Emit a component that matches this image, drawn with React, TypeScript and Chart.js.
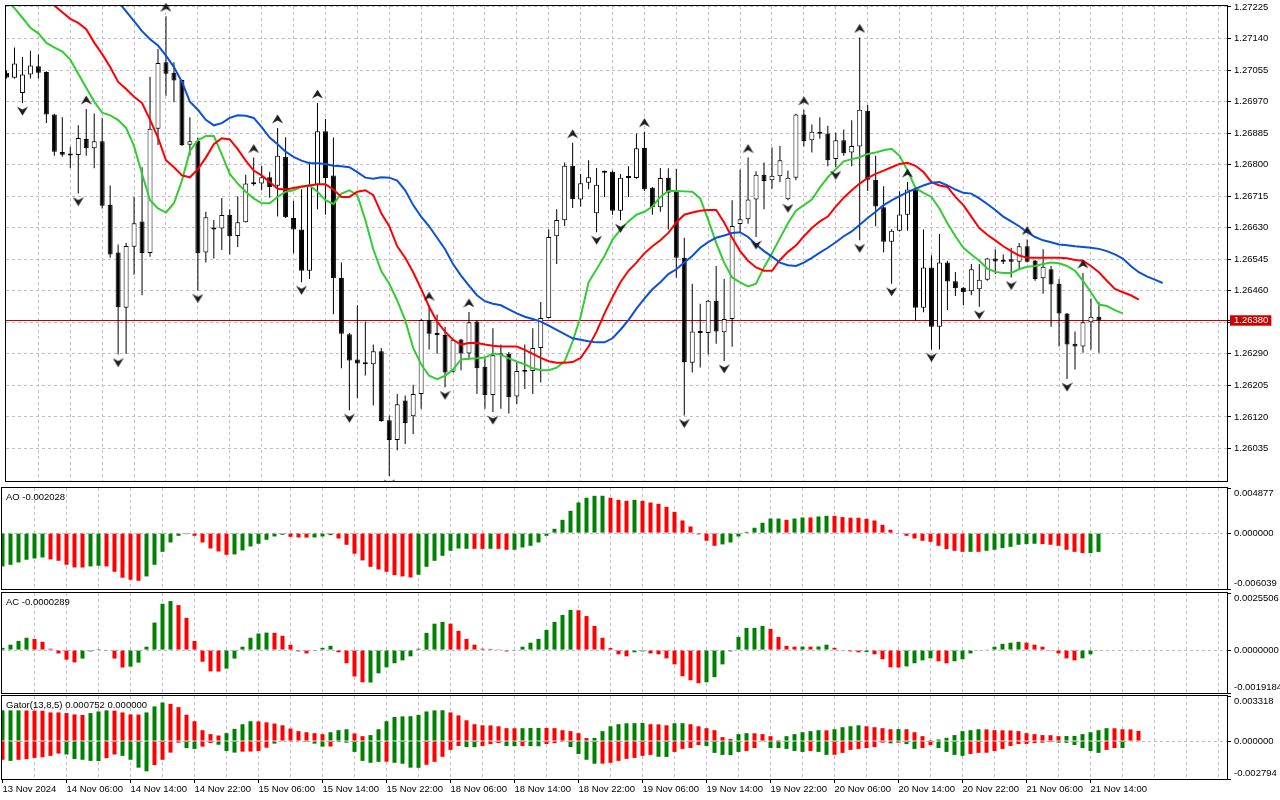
import React, { useEffect, useRef } from 'react';
import { Chart, registerables } from 'chart.js';

Chart.register(...registerables);

// ---------- data (H1 bars, 13 Nov 22:00 .. 21 Nov 15:00) ----------
const xTickLabels = ['13 Nov 2024', '14 Nov 06:00', '14 Nov 14:00', '14 Nov 22:00', '15 Nov 06:00', '15 Nov 14:00',
  '15 Nov 22:00', '18 Nov 06:00', '18 Nov 14:00', '18 Nov 22:00', '19 Nov 06:00', '19 Nov 14:00', '19 Nov 22:00',
  '20 Nov 06:00', '20 Nov 14:00', '20 Nov 22:00', '21 Nov 06:00', '21 Nov 14:00'];

const opens = [
  1.27048, 1.27034, 1.26993, 1.27043, 1.27065, 1.27050, 1.26935, 1.26834, 1.26828, 1.26826,
  1.26869, 1.26844, 1.26863, 1.26691, 1.26563, 1.26414, 1.26579, 1.26647, 1.26562, 1.26897,
  1.27076, 1.27048, 1.27028, 1.26854, 1.26864, 1.26563, 1.26625, 1.26628, 1.26665, 1.26608,
  1.26645, 1.26747, 1.26749, 1.26766, 1.26743, 1.26821, 1.26656, 1.26625, 1.26514, 1.26746,
  1.26890, 1.26771, 1.26495, 1.26343, 1.26275, 1.26266, 1.26262, 1.26297, 1.26111, 1.26058,
  1.26164, 1.26122, 1.26182, 1.26381, 1.26346, 1.26341, 1.26242, 1.26329, 1.26291, 1.26377,
  1.26255, 1.26179, 1.26286, 1.26290, 1.26175, 1.26242, 1.26244, 1.26306, 1.26387, 1.26607,
  1.26650, 1.26797, 1.26706, 1.26751, 1.26669, 1.26781, 1.26781, 1.26676, 1.26764, 1.26764,
  1.26845, 1.26738, 1.26685, 1.26765, 1.26727, 1.26549, 1.26266, 1.26350, 1.26346, 1.26433,
  1.26348, 1.26384, 1.26640, 1.26653, 1.26706, 1.26773, 1.26758, 1.26769, 1.26707, 1.26765,
  1.26935, 1.26866, 1.26889, 1.26884, 1.26815, 1.26866, 1.26833, 1.26849, 1.26945, 1.26759,
  1.26685, 1.26592, 1.26622, 1.26665, 1.26733, 1.26414, 1.26523, 1.26363, 1.26536, 1.26486,
  1.26468, 1.26459, 1.26464, 1.26490, 1.26547, 1.26542, 1.26545, 1.26538, 1.26580, 1.26542,
  1.26494, 1.26518, 1.26479, 1.26399, 1.26317, 1.26310, 1.26375, 1.26390];

const highs = [
  1.27054, 1.27116, 1.27090, 1.27107, 1.27097, 1.27052, 1.26937, 1.26928, 1.26848, 1.26906,
  1.26950, 1.26938, 1.26926, 1.26744, 1.26585, 1.26589, 1.26713, 1.26793, 1.27036, 1.27112,
  1.27200, 1.27076, 1.27029, 1.26928, 1.26873, 1.26673, 1.26651, 1.26710, 1.26680, 1.26715,
  1.26773, 1.26819, 1.26797, 1.26781, 1.26899, 1.26874, 1.26703, 1.26734, 1.26808, 1.26966,
  1.26923, 1.26873, 1.26536, 1.26346, 1.26421, 1.26377, 1.26315, 1.26306, 1.26124, 1.26182,
  1.26178, 1.26207, 1.26384, 1.26421, 1.26396, 1.26363, 1.26331, 1.26331, 1.26403, 1.26381,
  1.26278, 1.26359, 1.26315, 1.26295, 1.26271, 1.26315, 1.26359, 1.26430, 1.26625, 1.26680,
  1.26806, 1.26859, 1.26775, 1.26812, 1.26791, 1.26784, 1.26784, 1.26775, 1.26796, 1.26884,
  1.26889, 1.26740, 1.26791, 1.26790, 1.26788, 1.26603, 1.26479, 1.26425, 1.26436, 1.26527,
  1.26492, 1.26704, 1.26786, 1.26819, 1.26782, 1.26806, 1.26846, 1.26850, 1.26784, 1.26937,
  1.26948, 1.26908, 1.26928, 1.26905, 1.26886, 1.26895, 1.26920, 1.27143, 1.26961, 1.26824,
  1.26742, 1.26626, 1.26728, 1.26753, 1.26738, 1.26625, 1.26556, 1.26613, 1.26541, 1.26511,
  1.26470, 1.26532, 1.26532, 1.26549, 1.26572, 1.26558, 1.26576, 1.26589, 1.26598, 1.26543,
  1.26572, 1.26527, 1.26492, 1.26400, 1.26350, 1.26508, 1.26439, 1.26430];

const lows = [
  1.27032, 1.27032, 1.26966, 1.27032, 1.27032, 1.26912, 1.26824, 1.26821, 1.26791, 1.26722,
  1.26824, 1.26790, 1.26682, 1.26549, 1.26288, 1.26290, 1.26503, 1.26448, 1.26552, 1.26853,
  1.26986, 1.26968, 1.26850, 1.26824, 1.26461, 1.26536, 1.26547, 1.26570, 1.26558, 1.26578,
  1.26644, 1.26743, 1.26731, 1.26711, 1.26660, 1.26656, 1.26561, 1.26483, 1.26492, 1.26680,
  1.26665, 1.26397, 1.26251, 1.26138, 1.26171, 1.26232, 1.26151, 1.26107, 1.25961, 1.26030,
  1.26047, 1.26074, 1.26142, 1.26302, 1.26290, 1.26200, 1.26240, 1.26246, 1.26275, 1.26182,
  1.26142, 1.26133, 1.26142, 1.26129, 1.26155, 1.26195, 1.26182, 1.26213, 1.26386, 1.26532,
  1.26635, 1.26683, 1.26687, 1.26734, 1.26618, 1.26713, 1.26665, 1.26650, 1.26713, 1.26762,
  1.26729, 1.26665, 1.26673, 1.26625, 1.26496, 1.26124, 1.26240, 1.26253, 1.26288, 1.26317,
  1.26271, 1.26309, 1.26616, 1.26641, 1.26605, 1.26680, 1.26735, 1.26753, 1.26704, 1.26758,
  1.26849, 1.26833, 1.26870, 1.26796, 1.26793, 1.26824, 1.26796, 1.26596, 1.26729, 1.26634,
  1.26563, 1.26479, 1.26620, 1.26622, 1.26379, 1.26402, 1.26302, 1.26302, 1.26408, 1.26446,
  1.26421, 1.26448, 1.26417, 1.26487, 1.26505, 1.26532, 1.26496, 1.26518, 1.26536, 1.26487,
  1.26452, 1.26363, 1.26310, 1.26222, 1.26248, 1.26293, 1.26302, 1.26293];

const closes = [
  1.27035, 1.27073, 1.27043, 1.27067, 1.27048, 1.26935, 1.26835, 1.26827, 1.26825, 1.26872,
  1.26844, 1.26863, 1.26689, 1.26558, 1.26416, 1.26581, 1.26642, 1.26562, 1.26897, 1.27074,
  1.27045, 1.27027, 1.26853, 1.26863, 1.26561, 1.26658, 1.26629, 1.26664, 1.26607, 1.26645,
  1.26749, 1.26750, 1.26766, 1.26740, 1.26824, 1.26658, 1.26625, 1.26514, 1.26746, 1.26890,
  1.26764, 1.26494, 1.26344, 1.26272, 1.26264, 1.26262, 1.26297, 1.26109, 1.26058, 1.26154,
  1.26104, 1.26182, 1.26381, 1.26344, 1.26340, 1.26240, 1.26328, 1.26291, 1.26375, 1.26251,
  1.26179, 1.26286, 1.26290, 1.26173, 1.26244, 1.26246, 1.26306, 1.26387, 1.26605, 1.26651,
  1.26797, 1.26707, 1.26750, 1.26766, 1.26746, 1.26778, 1.26676, 1.26765, 1.26765, 1.26844,
  1.26734, 1.26685, 1.26764, 1.26724, 1.26549, 1.26268, 1.26350, 1.26346, 1.26433, 1.26350,
  1.26384, 1.26635, 1.26653, 1.26706, 1.26773, 1.26756, 1.26770, 1.26812, 1.26765, 1.26935,
  1.26864, 1.26889, 1.26883, 1.26812, 1.26866, 1.26831, 1.26850, 1.26948, 1.26759, 1.26687,
  1.26592, 1.26622, 1.26666, 1.26733, 1.26414, 1.26523, 1.26363, 1.26536, 1.26485, 1.26467,
  1.26456, 1.26518, 1.26490, 1.26547, 1.26539, 1.26538, 1.26538, 1.26580, 1.26538, 1.26492,
  1.26525, 1.26477, 1.26399, 1.26315, 1.26310, 1.26375, 1.26390, 1.26380];

// Alligator lines as drawn (already shifted forward: jaw +8, teeth +5, lips +3 bars)
const jaw = [
  1.27590, 1.27568, 1.27545, 1.27523, 1.27501, 1.27479, 1.27453, 1.27426, 1.27399, 1.27373,
  1.27346, 1.27320, 1.27293, 1.27267, 1.27240, 1.27213, 1.27187, 1.27160, 1.27138, 1.27121,
  1.27094, 1.27063, 1.27023, 1.26970, 1.26948, 1.26921, 1.26906, 1.26912, 1.26926, 1.26933,
  1.26932, 1.26926, 1.26901, 1.26873, 1.26855, 1.26835, 1.26821, 1.26811, 1.26804, 1.26804,
  1.26802, 1.26797, 1.26796, 1.26793, 1.26780, 1.26765, 1.26762, 1.26766, 1.26765, 1.26757,
  1.26731, 1.26691, 1.26660, 1.26634, 1.26603, 1.26572, 1.26532, 1.26501, 1.26474, 1.26448,
  1.26432, 1.26425, 1.26421, 1.26410, 1.26399, 1.26390, 1.26384, 1.26377, 1.26366, 1.26355,
  1.26343, 1.26332, 1.26328, 1.26324, 1.26321, 1.26321, 1.26332, 1.26355, 1.26381, 1.26412,
  1.26439, 1.26464, 1.26483, 1.26505, 1.26518, 1.26536, 1.26554, 1.26576, 1.26591, 1.26603,
  1.26609, 1.26616, 1.26618, 1.26605, 1.26585, 1.26567, 1.26552, 1.26536, 1.26529, 1.26527,
  1.26536, 1.26549, 1.26563, 1.26576, 1.26591, 1.26607, 1.26620, 1.26638, 1.26656, 1.26673,
  1.26691, 1.26704, 1.26715, 1.26726, 1.26735, 1.26744, 1.26751, 1.26753, 1.26744, 1.26733,
  1.26724, 1.26722, 1.26709, 1.26694, 1.26678, 1.26660, 1.26647, 1.26634, 1.26618, 1.26605,
  1.26596, 1.26591, 1.26585, 1.26583, 1.26580, 1.26578, 1.26576, 1.26573, 1.26567, 1.26558,
  1.26547, 1.26527, 1.26510, 1.26499, 1.26490, 1.26481];

const teeth = [
  1.27342, 1.27324, 1.27306, 1.27289, 1.27269, 1.27249, 1.27229, 1.27211, 1.27193, 1.27182,
  1.27165, 1.27129, 1.27098, 1.27063, 1.27023, 1.27004, 1.26983, 1.26966, 1.26921, 1.26873,
  1.26812, 1.26793, 1.26771, 1.26766, 1.26788, 1.26819, 1.26855, 1.26871, 1.26868, 1.26842,
  1.26811, 1.26784, 1.26771, 1.26753, 1.26735, 1.26733, 1.26737, 1.26741, 1.26744, 1.26747,
  1.26747, 1.26733, 1.26713, 1.26713, 1.26727, 1.26731, 1.26718, 1.26669, 1.26634, 1.26580,
  1.26549, 1.26510, 1.26465, 1.26417, 1.26377, 1.26350, 1.26328, 1.26315, 1.26319, 1.26319,
  1.26315, 1.26312, 1.26310, 1.26310, 1.26310, 1.26301, 1.26290, 1.26279, 1.26270, 1.26266,
  1.26266, 1.26268, 1.26279, 1.26310, 1.26350, 1.26399, 1.26443, 1.26483, 1.26514, 1.26536,
  1.26561, 1.26580, 1.26596, 1.26616, 1.26644, 1.26665, 1.26671, 1.26676, 1.26678, 1.26678,
  1.26644, 1.26603, 1.26567, 1.26541, 1.26523, 1.26514, 1.26514, 1.26543, 1.26565, 1.26582,
  1.26607, 1.26629, 1.26647, 1.26660, 1.26687, 1.26711, 1.26731, 1.26749, 1.26764, 1.26775,
  1.26784, 1.26793, 1.26802, 1.26805, 1.26797, 1.26780, 1.26753, 1.26744, 1.26740, 1.26713,
  1.26691, 1.26660, 1.26629, 1.26611, 1.26596, 1.26580, 1.26567, 1.26555, 1.26549, 1.26549,
  1.26549, 1.26549, 1.26549, 1.26548, 1.26543, 1.26541, 1.26527, 1.26510, 1.26487, 1.26465,
  1.26456, 1.26448, 1.26436];

const lips = [
  1.27240, 1.27222, 1.27196, 1.27169, 1.27154, 1.27128, 1.27116, 1.27105, 1.27083, 1.27045,
  1.27007, 1.26970, 1.26940, 1.26933, 1.26920, 1.26899, 1.26850, 1.26775, 1.26704, 1.26682,
  1.26671, 1.26696, 1.26757, 1.26837, 1.26866, 1.26877, 1.26877, 1.26828, 1.26775, 1.26749,
  1.26727, 1.26709, 1.26696, 1.26696, 1.26713, 1.26727, 1.26731, 1.26740, 1.26744, 1.26727,
  1.26704, 1.26694, 1.26722, 1.26731, 1.26718, 1.26651, 1.26572, 1.26513, 1.26479, 1.26434,
  1.26381, 1.26306, 1.26262, 1.26231, 1.26222, 1.26231, 1.26248, 1.26275, 1.26277, 1.26278,
  1.26280, 1.26291, 1.26288, 1.26278, 1.26269, 1.26262, 1.26251, 1.26246, 1.26246, 1.26253,
  1.26270, 1.26324, 1.26390, 1.26483, 1.26518, 1.26554, 1.26598, 1.26625, 1.26647, 1.26665,
  1.26673, 1.26687, 1.26713, 1.26729, 1.26729, 1.26728, 1.26727, 1.26709, 1.26651, 1.26589,
  1.26536, 1.26496, 1.26483, 1.26472, 1.26479, 1.26523, 1.26561, 1.26602, 1.26642, 1.26676,
  1.26691, 1.26706, 1.26738, 1.26766, 1.26788, 1.26809, 1.26815, 1.26820, 1.26829, 1.26833,
  1.26839, 1.26843, 1.26824, 1.26784, 1.26737, 1.26724, 1.26713, 1.26682, 1.26642, 1.26607,
  1.26576, 1.26558, 1.26541, 1.26520, 1.26511, 1.26508, 1.26508, 1.26518, 1.26525, 1.26527,
  1.26532, 1.26536, 1.26534, 1.26527, 1.26514, 1.26487, 1.26456, 1.26423, 1.26419, 1.26408,
  1.26399];

const fractalUpBars = [10, 20, 31, 34, 39, 53, 58, 71, 80, 93, 100, 107, 113, 128, 135];
const fractalDownBars = [2, 9, 14, 24, 37, 43, 48, 55, 61, 74, 77, 85, 90, 94, 98, 104, 107, 111, 116, 122, 126, 133];

const currentPrice = 1.2638;
const priceTicks = [1.26035, 1.2612, 1.26205, 1.2629, 1.26375, 1.2646, 1.26545, 1.2663, 1.26715, 1.268,
  1.26885, 1.2697, 1.27055, 1.2714, 1.27225];

const aoValues = [
  -0.00360, -0.00342, -0.00317, -0.00288, -0.00274, -0.00263, -0.00284, -0.00299, -0.00342, -0.00371,
  -0.00372, -0.00360, -0.00353, -0.00360, -0.00418, -0.00482, -0.00504, -0.00515, -0.00468, -0.00342,
  -0.00202, -0.00101, -0.00029, -0.00011, -0.00029, -0.00101, -0.00166, -0.00198, -0.00234, -0.00230,
  -0.00187, -0.00144, -0.00115, -0.00072, -0.00036, -0.00018, -0.00040, -0.00047, -0.00048, -0.00047,
  -0.00036, -0.00022, -0.00058, -0.00126, -0.00223, -0.00295, -0.00364, -0.00392, -0.00418, -0.00454,
  -0.00468, -0.00479, -0.00450, -0.00364, -0.00299, -0.00245, -0.00191, -0.00166, -0.00169, -0.00170,
  -0.00171, -0.00169, -0.00170, -0.00180, -0.00180, -0.00155, -0.00137, -0.00101, -0.00029, 0.00047,
  0.00144, 0.00241, 0.00331, 0.00382, 0.00403, 0.00404, 0.00382, 0.00360, 0.00349, 0.00360,
  0.00349, 0.00331, 0.00317, 0.00284, 0.00230, 0.00137, 0.00072, -0.00014, -0.00083, -0.00137,
  -0.00122, -0.00101, -0.00036, 0.00014, 0.00058, 0.00112, 0.00158, 0.00158, 0.00144, 0.00158,
  0.00169, 0.00169, 0.00180, 0.00187, 0.00187, 0.00173, 0.00166, 0.00166, 0.00155, 0.00137,
  0.00090, 0.00036, -0.00004, -0.00029, -0.00058, -0.00083, -0.00094, -0.00137, -0.00173, -0.00191,
  -0.00202, -0.00202, -0.00202, -0.00191, -0.00180, -0.00162, -0.00148, -0.00126, -0.00119, -0.00115,
  -0.00119, -0.00126, -0.00137, -0.00180, -0.00202, -0.00216, -0.00216, -0.00203];
const aoRising = [
  1, 1, 1, 1, 1, 1, 0, 0, 0, 0, 0, 1, 1, 0, 0, 0, 0, 0, 1, 1,
  1, 1, 1, 1, 0, 0, 0, 0, 0, 1, 1, 1, 1, 1, 1, 1, 0, 0, 0, 1,
  1, 1, 0, 0, 0, 0, 0, 0, 0, 0, 0, 0, 1, 1, 1, 1, 1, 1, 1, 0,
  0, 1, 0, 0, 1, 1, 1, 1, 1, 1, 1, 1, 1, 1, 1, 1, 0, 0, 0, 1,
  0, 0, 0, 0, 0, 0, 0, 0, 0, 0, 1, 1, 1, 1, 1, 1, 1, 1, 0, 1,
  1, 0, 1, 1, 0, 0, 0, 0, 0, 0, 0, 0, 0, 0, 0, 0, 0, 0, 0, 0,
  0, 1, 0, 1, 1, 1, 1, 1, 1, 1, 0, 0, 0, 0, 0, 0, 1, 1];

const acValues = [
  0.00010, 0.00024, 0.00041, 0.00055, 0.00050, 0.00037, 0.00006, -0.00015, -0.00043, -0.00055,
  -0.00038, -0.00006, 0.00004, -0.00001, -0.00038, -0.00078, -0.00074, -0.00056, 0.00015, 0.00123,
  0.00207, 0.00219, 0.00201, 0.00144, 0.00041, -0.00052, -0.00095, -0.00096, -0.00083, -0.00038,
  0.00015, 0.00055, 0.00074, 0.00078, 0.00077, 0.00064, 0.00024, -0.00006, -0.00015, -0.00001,
  0.00010, 0.00019, -0.00010, -0.00059, -0.00118, -0.00144, -0.00145, -0.00104, -0.00077, -0.00059,
  -0.00046, -0.00028, 0.00006, 0.00077, 0.00118, 0.00126, 0.00118, 0.00086, 0.00050, 0.00024,
  0.00006, 0.00005, 0.00001, -0.00006, -0.00001, 0.00015, 0.00033, 0.00050, 0.00090, 0.00126,
  0.00157, 0.00179, 0.00178, 0.00152, 0.00108, 0.00055, 0.00009, -0.00019, -0.00028, -0.00010,
  -0.00006, -0.00015, -0.00019, -0.00037, -0.00064, -0.00117, -0.00135, -0.00148, -0.00144, -0.00121,
  -0.00064, -0.00006, 0.00059, 0.00099, 0.00099, 0.00108, 0.00095, 0.00059, 0.00019, 0.00015,
  0.00016, 0.00015, 0.00016, 0.00024, 0.00010, -0.00003, -0.00006, -0.00010, -0.00009, -0.00019,
  -0.00041, -0.00077, -0.00078, -0.00073, -0.00059, -0.00046, -0.00037, -0.00050, -0.00059, -0.00050,
  -0.00041, -0.00015, -0.00003, 0.00003, 0.00015, 0.00028, 0.00033, 0.00037, 0.00033, 0.00024,
  0.00015, -0.00001, -0.00015, -0.00037, -0.00046, -0.00037, -0.00019, -0.00003];
const acRising = [
  1, 1, 1, 1, 0, 0, 0, 0, 0, 0, 1, 1, 1, 0, 0, 0, 1, 1, 1, 1,
  1, 1, 0, 0, 0, 0, 0, 0, 1, 1, 1, 1, 1, 1, 0, 0, 0, 0, 0, 1,
  1, 1, 0, 0, 0, 0, 1, 1, 1, 1, 1, 1, 1, 1, 1, 1, 0, 0, 0, 0,
  0, 0, 0, 0, 1, 1, 1, 1, 1, 1, 1, 1, 0, 0, 0, 0, 0, 0, 0, 1,
  1, 0, 0, 0, 0, 0, 0, 0, 1, 1, 1, 1, 1, 1, 1, 1, 0, 0, 0, 0,
  1, 0, 1, 1, 0, 0, 0, 0, 1, 0, 0, 0, 0, 1, 1, 1, 1, 0, 0, 1,
  1, 1, 1, 1, 1, 1, 1, 1, 0, 0, 0, 0, 0, 0, 0, 1, 1, 1];

const gatorUpper = [
  0.00226, 0.00226, 0.00226, 0.00225, 0.00224, 0.00223, 0.00211, 0.00211, 0.00206, 0.00196,
  0.00192, 0.00206, 0.00218, 0.00226, 0.00224, 0.00211, 0.00196, 0.00195, 0.00211, 0.00255,
  0.00284, 0.00274, 0.00250, 0.00194, 0.00146, 0.00080, 0.00051, 0.00041, 0.00058, 0.00090,
  0.00124, 0.00146, 0.00145, 0.00138, 0.00129, 0.00116, 0.00092, 0.00073, 0.00065, 0.00058,
  0.00051, 0.00065, 0.00080, 0.00087, 0.00056, 0.00036, 0.00044, 0.00087, 0.00146, 0.00177,
  0.00182, 0.00183, 0.00192, 0.00218, 0.00226, 0.00227, 0.00211, 0.00189, 0.00153, 0.00124,
  0.00116, 0.00115, 0.00109, 0.00095, 0.00094, 0.00095, 0.00096, 0.00097, 0.00096, 0.00095,
  0.00080, 0.00073, 0.00058, 0.00022, 0.00023, 0.00073, 0.00109, 0.00124, 0.00131, 0.00132,
  0.00133, 0.00124, 0.00123, 0.00116, 0.00131, 0.00132, 0.00124, 0.00109, 0.00095, 0.00080,
  0.00029, 0.00015, 0.00051, 0.00058, 0.00057, 0.00051, 0.00036, 0.00007, 0.00036, 0.00051,
  0.00065, 0.00073, 0.00080, 0.00079, 0.00087, 0.00102, 0.00109, 0.00116, 0.00109, 0.00102,
  0.00095, 0.00087, 0.00088, 0.00087, 0.00065, 0.00036, 0.00007, 0.00012, 0.00024, 0.00044,
  0.00073, 0.00080, 0.00087, 0.00086, 0.00080, 0.00079, 0.00078, 0.00073, 0.00058, 0.00051,
  0.00044, 0.00043, 0.00036, 0.00037, 0.00038, 0.00051, 0.00065, 0.00080, 0.00095, 0.00094,
  0.00087, 0.00086, 0.00075];
const gatorUpperRising = [
  1, 1, 1, 0, 0, 0, 0, 0, 0, 0, 0, 1, 1, 1, 0, 0, 0, 0, 1, 1,
  1, 0, 0, 0, 0, 0, 0, 0, 1, 1, 1, 1, 0, 0, 0, 0, 0, 0, 0, 0,
  0, 1, 1, 1, 0, 0, 1, 1, 1, 1, 1, 1, 1, 1, 1, 1, 0, 0, 0, 0,
  0, 0, 0, 0, 0, 1, 1, 1, 0, 0, 0, 0, 0, 0, 1, 1, 1, 1, 1, 1,
  1, 0, 0, 0, 1, 1, 0, 0, 0, 0, 0, 0, 1, 1, 0, 0, 0, 0, 1, 1,
  1, 1, 1, 0, 1, 1, 1, 1, 0, 0, 0, 0, 1, 0, 0, 0, 0, 1, 1, 1,
  1, 1, 1, 0, 0, 0, 0, 0, 0, 0, 0, 0, 0, 1, 1, 1, 1, 1, 1, 0,
  0, 0, 0];

const gatorLower = [
  -0.00138, -0.00146, -0.00138, -0.00133, -0.00124, -0.00119, -0.00109, -0.00092, -0.00099, -0.00133,
  -0.00138, -0.00146, -0.00147, -0.00126, -0.00099, -0.00109, -0.00138, -0.00196, -0.00223, -0.00177,
  -0.00138, -0.00085, -0.00012, -0.00051, -0.00058, -0.00041, -0.00015, -0.00027, -0.00073, -0.00085,
  -0.00078, -0.00077, -0.00073, -0.00049, -0.00019, -0.00005, -0.00002, -0.00003, -0.00007, -0.00019,
  -0.00041, -0.00040, -0.00007, -0.00012, -0.00080, -0.00146, -0.00160, -0.00153, -0.00152, -0.00160,
  -0.00167, -0.00196, -0.00197, -0.00175, -0.00153, -0.00116, -0.00065, -0.00036, -0.00044, -0.00045,
  -0.00036, -0.00022, -0.00015, -0.00036, -0.00037, -0.00036, -0.00037, -0.00038, -0.00022, -0.00015,
  -0.00002, -0.00044, -0.00095, -0.00138, -0.00167, -0.00166, -0.00160, -0.00146, -0.00131, -0.00124,
  -0.00109, -0.00102, -0.00116, -0.00117, -0.00080, -0.00058, -0.00051, -0.00029, -0.00036, -0.00087,
  -0.00102, -0.00103, -0.00080, -0.00073, -0.00051, -0.00005, -0.00051, -0.00052, -0.00058, -0.00073,
  -0.00080, -0.00073, -0.00080, -0.00102, -0.00101, -0.00087, -0.00065, -0.00058, -0.00051, -0.00044,
  -0.00012, -0.00017, -0.00012, -0.00022, -0.00058, -0.00051, -0.00029, -0.00051, -0.00080, -0.00102,
  -0.00109, -0.00095, -0.00087, -0.00086, -0.00073, -0.00058, -0.00036, -0.00022, -0.00021, -0.00015,
  -0.00012, -0.00007, -0.00012, -0.00013, -0.00029, -0.00051, -0.00073, -0.00087, -0.00065, -0.00051,
  -0.00051];
const gatorLowerRising = [
  0, 1, 0, 0, 0, 0, 0, 0, 1, 1, 1, 1, 1, 0, 0, 1, 1, 1, 1, 0,
  0, 0, 0, 1, 1, 0, 0, 1, 1, 1, 0, 0, 0, 0, 1, 1, 1, 1, 1, 1,
  1, 0, 1, 1, 1, 1, 1, 1, 0, 1, 1, 1, 1, 0, 0, 0, 0, 0, 1, 1,
  0, 0, 0, 1, 1, 0, 1, 1, 0, 0, 0, 1, 1, 1, 1, 0, 0, 0, 0, 0,
  0, 0, 1, 1, 0, 0, 0, 0, 1, 1, 1, 1, 1, 0, 0, 1, 1, 1, 1, 1,
  1, 0, 1, 1, 0, 0, 0, 0, 0, 0, 0, 1, 0, 1, 1, 0, 0, 1, 1, 1,
  1, 0, 0, 0, 0, 0, 0, 0, 0, 0, 0, 0, 1, 1, 1, 1, 1, 1, 0, 0,
  1];

const aoScale = { min: -0.006039, max: 0.004877, labels: ['-0.006039', '0.000000', '0.004877'] };
const acScale = { min: -0.0019184, max: 0.0025506, labels: ['-0.0019184', '0.0000000', '0.0025506'] };
const gatorScale = { min: -0.002794, max: 0.003318, labels: ['-0.002794', '0.000000', '0.003318'] };

// ---------- styling ----------
const FAMILY = '"Liberation Sans", Arial, sans-serif';
const FONT = { family: FAMILY, size: 9.5, lineHeight: 1.1 };
const GRID = 'rgb(198,186,206)';
const DASH = [3, 3];
const X_MIN = -0.0625;
const X_MAX = 153.0625;
const GREEN = '#008000';
const RED = '#ff0000';
const CLEAR = 'rgba(0,0,0,0)';
const gridPositions = Array.from({ length: 39 }, (_, i) => i * 4);

const framePlugin = {
  id: 'paneFrame',
  afterDraw(chart: any) {
    const { ctx, chartArea: a } = chart;
    ctx.save();
    ctx.setLineDash([]);
    ctx.strokeStyle = '#000';
    ctx.lineWidth = 1;
    ctx.strokeRect(Math.round(a.left) - 0.5, Math.round(a.top) - 0.5,
      Math.round(a.right - a.left) + 1, Math.round(a.bottom - a.top) + 1);
    ctx.restore();
  },
};

function xAxis(withLabels: boolean) {
  return {
    type: 'linear',
    min: X_MIN,
    max: X_MAX,
    offset: false,
    afterBuildTicks: (s: any) => { s.ticks = gridPositions.map((v) => ({ value: v })); },
    afterFit: (s: any) => {
      s.height = withLabels ? 21 : 0;
      s.paddingLeft = 0; s.paddingRight = 0; s.paddingTop = 0; s.paddingBottom = 0;
    },
    ticks: {
      display: withLabels,
      autoSkip: false,
      maxRotation: 0,
      minRotation: 0,
      align: 'start',
      padding: 1,
      font: FONT,
      color: '#000',
      callback: (v: number) => (v % 8 === 0 && v / 8 < xTickLabels.length ? xTickLabels[v / 8] : ''),
    },
    grid: {
      offset: false,
      drawOnChartArea: true,
      drawTicks: withLabels,
      tickLength: 4,
      lineWidth: 1,
      color: (ctx: any) => (ctx.tick && ctx.tick.value === 0 ? CLEAR : GRID),
      tickColor: (ctx: any) => (ctx.tick && ctx.tick.value % 8 === 0 && ctx.tick.value / 8 < xTickLabels.length ? '#000' : CLEAR),
    },
    border: { display: withLabels, color: '#000', width: 1, dash: DASH },
  };
}

function priceAxis() {
  return {
    type: 'linear',
    position: 'right',
    min: 1.2594734,
    max: 1.2722766,
    afterBuildTicks: (s: any) => { s.ticks = [...priceTicks, currentPrice].map((v) => ({ value: v })); },
    afterFit: (s: any) => { s.width = 53; s.paddingTop = 0; s.paddingBottom = 0; },
    ticks: {
      font: FONT,
      padding: 3,
      color: (ctx: any) => (ctx.tick && ctx.tick.value === currentPrice ? '#fff' : '#000'),
      showLabelBackdrop: (ctx: any) => !!(ctx.tick && ctx.tick.value === currentPrice),
      backdropColor: '#cc0000',
      backdropPadding: { left: 4, right: 3, top: 0, bottom: 0 },
      callback: (v: number) => (v === 1.26375 ? '' : v.toFixed(5)),
    },
    grid: {
      color: (ctx: any) => (ctx.tick && ctx.tick.value === currentPrice ? '#c00000' : GRID),
      tickLength: 4,
      tickColor: '#000',
      drawTicks: true,
    },
    border: {
      display: true,
      color: '#000',
      dash: (ctx: any) => (ctx.tick && ctx.tick.value === currentPrice ? [] : DASH),
    },
  };
}

function indicatorAxis(cfg: { min: number; max: number; labels: string[] }) {
  return {
    type: 'linear',
    position: 'right',
    min: cfg.min,
    max: cfg.max,
    afterBuildTicks: (s: any) => { s.ticks = [cfg.min, 0, cfg.max].map((v) => ({ value: v })); },
    afterFit: (s: any) => { s.width = 53; s.paddingTop = 0; s.paddingBottom = 0; },
    ticks: {
      font: FONT,
      padding: 3,
      color: '#000',
      callback: (_v: number, i: number) => (i === 0 ? [cfg.labels[0], ''] : i === 2 ? ['', cfg.labels[2]] : cfg.labels[1]),
    },
    grid: {
      color: (ctx: any) => (ctx.tick && ctx.tick.value === 0 ? GRID : CLEAR),
      tickLength: 4,
      tickColor: '#000',
    },
    border: { display: true, color: '#000', dash: DASH },
  };
}

function baseOptions(padding: any, y: any, withLabels: boolean) {
  return {
    animation: false,
    responsive: false,
    devicePixelRatio: 1,
    events: [],
    layout: { padding },
    plugins: { legend: { display: false }, tooltip: { enabled: false } },
    scales: { x: xAxis(withLabels), y },
  };
}

function histogram(values: number[], rising: number[]) {
  return {
    type: 'bar',
    data: values.map((v, i) => ({ x: i, y: v })),
    backgroundColor: rising.map((r) => (r ? GREEN : RED)),
    borderWidth: 0,
    barThickness: 4,
    grouped: false,
    inflateAmount: 0,
  };
}

function makeArrow(up: boolean) {
  const c = document.createElement('canvas');
  c.width = 11;
  c.height = 30;
  const g = c.getContext('2d') as CanvasRenderingContext2D;
  g.fillStyle = '#1c1c1c';
  g.beginPath();
  if (up) {
    g.moveTo(5.5, 1.5); g.lineTo(11, 10.5); g.lineTo(5.5, 7.5); g.lineTo(0, 10.5);
  } else {
    g.moveTo(5.5, 27.5); g.lineTo(11, 18.5); g.lineTo(5.5, 21.5); g.lineTo(0, 18.5);
  }
  g.closePath();
  g.fill();
  return c;
}

const titleStyle = (top: number): React.CSSProperties => ({
  position: 'absolute', left: 6, top, fontFamily: FAMILY, fontSize: 9.5, lineHeight: '11px',
  color: '#000', whiteSpace: 'nowrap', pointerEvents: 'none',
});

export default function App() {
  const mainRef = useRef<HTMLCanvasElement>(null);
  const aoRef = useRef<HTMLCanvasElement>(null);
  const acRef = useRef<HTMLCanvasElement>(null);
  const gatorRef = useRef<HTMLCanvasElement>(null);

  useEffect(() => {
    const charts: Chart[] = [];
    const upImg = makeArrow(true);
    const downImg = makeArrow(false);
    const bars = opens.map((_, i) => i);
    const line = (values: number[], color: string) => ({
      type: 'line',
      data: values.map((v, i) => ({ x: i, y: v })),
      borderColor: color,
      borderWidth: 2,
      pointRadius: 0,
      tension: 0,
      order: 2,
    });

    charts.push(new Chart(mainRef.current as HTMLCanvasElement, {
      type: 'line',
      data: {
        datasets: [
          {
            type: 'bar',
            data: bars.map((i) => ({ x: i, y: [lows[i], highs[i]] })),
            backgroundColor: '#000',
            borderWidth: 0,
            barThickness: 1,
            grouped: false,
            inflateAmount: 0,
            order: 5,
          },
          {
            type: 'bar',
            data: bars.map((i) => ({ x: i, y: [opens[i], closes[i]] })),
            backgroundColor: bars.map((i) => (closes[i] >= opens[i] ? '#fff' : '#000')),
            borderColor: '#000',
            borderWidth: 1,
            borderSkipped: false,
            barThickness: 5,
            minBarLength: 2,
            grouped: false,
            inflateAmount: 0,
            order: 4,
          },
          line(jaw, '#0b50d8'),
          line(teeth, '#ff0000'),
          line(lips, '#32cd32'),
          {
            type: 'line',
            data: fractalUpBars.map((i) => ({ x: i, y: highs[i] })),
            showLine: false,
            pointStyle: upImg,
            pointRadius: 5,
            clip: { left: 0, right: 0, top: 3, bottom: 0 },
            order: 1,
          },
          {
            type: 'line',
            data: fractalDownBars.map((i) => ({ x: i, y: lows[i] })),
            showLine: false,
            pointStyle: downImg,
            pointRadius: 5,
            clip: { left: 0, right: 0, top: 0, bottom: 0 },
            order: 1,
          },
        ],
      } as any,
      options: baseOptions({ left: 2, right: 0, top: 3, bottom: 2 }, priceAxis(), false) as any,
      plugins: [framePlugin],
    }));

    charts.push(new Chart(aoRef.current as HTMLCanvasElement, {
      type: 'line',
      data: { datasets: [histogram(aoValues, aoRising)] } as any,
      options: baseOptions({ left: 2, right: 0, top: 1, bottom: 2 }, indicatorAxis(aoScale), false) as any,
      plugins: [framePlugin],
    }));

    charts.push(new Chart(acRef.current as HTMLCanvasElement, {
      type: 'line',
      data: { datasets: [histogram(acValues, acRising)] } as any,
      options: baseOptions({ left: 2, right: 0, top: 2, bottom: 1 }, indicatorAxis(acScale), false) as any,
      plugins: [framePlugin],
    }));

    charts.push(new Chart(gatorRef.current as HTMLCanvasElement, {
      type: 'line',
      data: {
        datasets: [histogram(gatorUpper, gatorUpperRising), histogram(gatorLower, gatorLowerRising)],
      } as any,
      options: baseOptions({ left: 2, right: 0, top: 2, bottom: 0 }, indicatorAxis(gatorScale), true) as any,
      plugins: [framePlugin],
    }));

    return () => { charts.forEach((c) => c.destroy()); };
  }, []);

  return (
    <div style={{ position: 'absolute', left: 0, top: 0, width: 1280, height: 800, background: '#fff', overflow: 'hidden' }}>
      <canvas ref={mainRef} width={1280} height={487} style={{ position: 'absolute', left: 0, top: 0 }} />
      <canvas ref={aoRef} width={1280} height={104} style={{ position: 'absolute', left: 0, top: 487 }} />
      <canvas ref={acRef} width={1280} height={103} style={{ position: 'absolute', left: 0, top: 591 }} />
      <canvas ref={gatorRef} width={1280} height={106} style={{ position: 'absolute', left: 0, top: 694 }} />
      <div style={titleStyle(491)}>AO -0.002028</div>
      <div style={titleStyle(596)}>AC -0.0000289</div>
      <div style={titleStyle(699)}>Gator(13,8,5) 0.000752 0.000000</div>
    </div>
  );
}
